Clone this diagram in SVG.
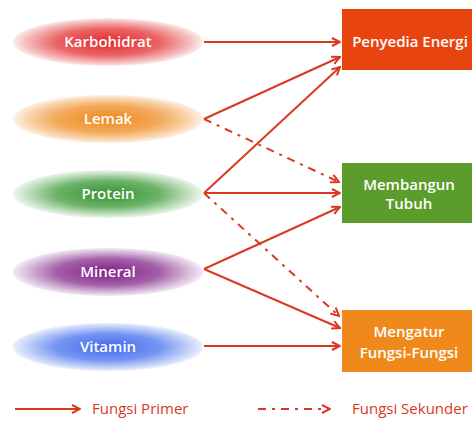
<svg xmlns="http://www.w3.org/2000/svg" width="472" height="421" viewBox="0 0 472 421">
<style>
.lbl{font-family:"Open Sans","Liberation Sans",sans-serif;font-size:15px;font-weight:600;fill:#fff;text-anchor:middle}
.box{font-family:"Open Sans","Liberation Sans",sans-serif;font-size:15px;font-weight:600;fill:#fff;text-anchor:middle}
.leg{font-family:"Open Sans","Liberation Sans",sans-serif;font-size:15px;fill:#d8391e}
.solid{stroke:#d9391e;stroke-width:2;fill:none;marker-end:url(#ah)}
.dash{stroke:#d9391e;stroke-width:2;fill:none;stroke-dasharray:8 6 3 6;marker-end:url(#ah)}
</style>
<defs>
<marker id="ah" viewBox="0 0 10 10" refX="9" refY="5" markerWidth="10" markerHeight="10" markerUnits="userSpaceOnUse" orient="auto">
<path d="M1,1 L9,5 L1,9" fill="none" stroke="#d9391e" stroke-width="2"/>
</marker>
<radialGradient id="gK" cx="0.5" cy="0.5" r="0.5"><stop offset="0" stop-color="#e22a2e"/><stop offset="0.55" stop-color="#ea6466"/><stop offset="0.85" stop-color="#f5b9b9"/><stop offset="1" stop-color="#fcecec"/></radialGradient>
<radialGradient id="gL" cx="0.5" cy="0.5" r="0.5"><stop offset="0" stop-color="#ee8a1c"/><stop offset="0.55" stop-color="#f3a95a"/><stop offset="0.85" stop-color="#f9d5ae"/><stop offset="1" stop-color="#fdf1e4"/></radialGradient>
<radialGradient id="gP" cx="0.5" cy="0.5" r="0.5"><stop offset="0" stop-color="#349232"/><stop offset="0.55" stop-color="#6cb369"/><stop offset="0.85" stop-color="#c3e0c1"/><stop offset="1" stop-color="#edf6ec"/></radialGradient>
<radialGradient id="gM" cx="0.5" cy="0.5" r="0.5"><stop offset="0" stop-color="#7f1d86"/><stop offset="0.55" stop-color="#a460a8"/><stop offset="0.85" stop-color="#d9bddb"/><stop offset="1" stop-color="#f3eaf4"/></radialGradient>
<radialGradient id="gV" cx="0.5" cy="0.5" r="0.5"><stop offset="0" stop-color="#426aee"/><stop offset="0.55" stop-color="#7594f2"/><stop offset="0.85" stop-color="#c2d1f9"/><stop offset="1" stop-color="#ebf0fd"/></radialGradient>
</defs>
<rect width="472" height="421" fill="#fff"/>
<g id="karbohidrat"><ellipse cx="108" cy="42" rx="95" ry="24" fill="url(#gK)"/><text class="lbl" x="108" y="47">Karbohidrat</text></g>
<g id="lemak"><ellipse cx="108" cy="119" rx="95" ry="24" fill="url(#gL)"/><text class="lbl" x="108" y="124">Lemak</text></g>
<g id="protein"><ellipse cx="108" cy="194" rx="95" ry="24" fill="url(#gP)"/><text class="lbl" x="108" y="199">Protein</text></g>
<g id="mineral"><ellipse cx="108" cy="272" rx="95" ry="24" fill="url(#gM)"/><text class="lbl" x="108" y="277">Mineral</text></g>
<g id="vitamin"><ellipse cx="108" cy="347" rx="95" ry="24" fill="url(#gV)"/><text class="lbl" x="108" y="352">Vitamin</text></g>
<g id="penyedia"><rect x="342" y="9" width="132" height="61" fill="#e8440f"/><text class="box" x="410" y="47">Penyedia Energi</text></g>
<g id="membangun"><rect x="342" y="163" width="132" height="60" fill="#5b9c2c"/><text class="box" x="409" y="190">Membangun</text><text class="box" x="409" y="209">Tubuh</text></g>
<g id="mengatur"><rect x="342" y="310" width="132" height="62" fill="#f0891c"/><text class="box" x="409" y="337">Mengatur</text><text class="box" x="409" y="358">Fungsi-Fungsi</text></g>
<g id="connectors">
<line class="solid" x1="204" y1="42" x2="340" y2="42"/>
<line class="solid" x1="204" y1="119" x2="340" y2="57"/>
<line class="dash" x1="204" y1="119" x2="339" y2="182"/>
<line class="solid" x1="204" y1="193" x2="340" y2="67"/>
<line class="solid" x1="204" y1="193" x2="340" y2="193"/>
<line class="dash" x1="204" y1="193" x2="339" y2="316"/>
<line class="solid" x1="204" y1="269" x2="340" y2="207"/>
<line class="solid" x1="204" y1="269" x2="340" y2="328"/>
<line class="solid" x1="204" y1="346" x2="340" y2="346"/>
</g>
<g id="legend">
<line class="solid" x1="15" y1="409" x2="80" y2="409"/>
<text class="leg" x="92" y="414">Fungsi Primer</text>
<line class="dash" x1="258" y1="409" x2="330" y2="409"/>
<text class="leg" x="352" y="414">Fungsi Sekunder</text>
</g>
</svg>
